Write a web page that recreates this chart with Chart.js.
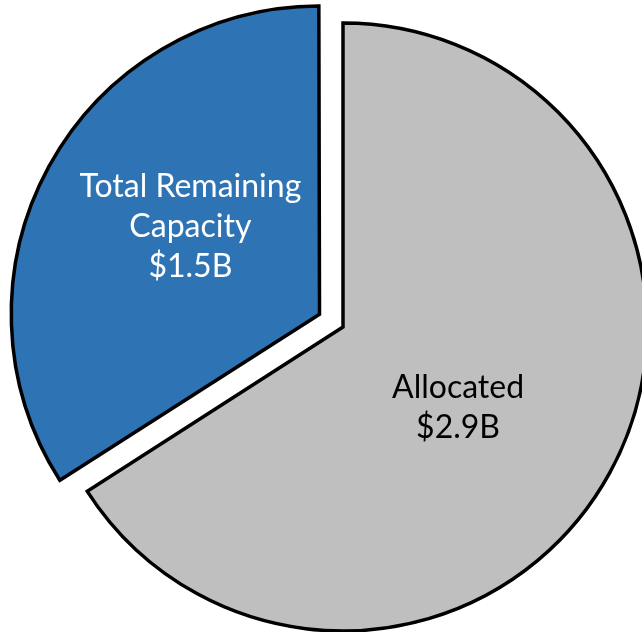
<!DOCTYPE html>
<html>
<head>
<meta charset="utf-8">
<script src="https://cdn.jsdelivr.net/npm/chart.js@4"></script>
<style>
	body { margin: 0; background: #fff; overflow: hidden; }
	#wrap { width: 642px; height: 632px; }
</style>
</head>
<body>
<div id="wrap"><canvas id="myChart" width="642" height="632"></canvas></div>
<script>
// 데이터
const categories = [["Allocated"], ["Total Remaining", "Capacity"]];
const values = [2.9, 1.5];
const valueLabels = ["$2.9B", "$1.5B"];

const sliceColors = ['#BFBFBF', '#2E74B5'];
const textColors = ['#000000', '#FFFFFF'];
const sliceOffsets = [0, 107];
const labelDist = [0.45, 0.5]; // 반지름 대비 라벨 위치
const labelNudge = [[-5, 15], [8, -13]]; // 라벨 미세 조정 (px)

// 조각 안에 라벨 그리기
const sliceLabels = {
	id: 'sliceLabels',
	afterDatasetsDraw(chart) {
		const ctx = chart.ctx;
		const meta = chart.getDatasetMeta(0);
		meta.data.forEach((arc, i) => {
			const p = arc.getProps(['x', 'y', 'startAngle', 'endAngle', 'outerRadius', 'circumference'], true);
			const mid = (p.startAngle + p.endAngle) / 2;
			const off = (arc.options.offset || 0) / 4 * (2 - Math.sin(Math.min(Math.PI, p.circumference)));
			const d = off + labelDist[i] * p.outerRadius;
			const cx = p.x + Math.cos(mid) * d + labelNudge[i][0];
			const cy = p.y + Math.sin(mid) * d + labelNudge[i][1];
			const lines = categories[i].concat([valueLabels[i]]);
			const lh = 40;
			ctx.save();
			ctx.font = '32px Lato';
			ctx.fillStyle = textColors[i];
			ctx.textAlign = 'center';
			ctx.textBaseline = 'middle';
			lines.forEach((t, j) => {
				ctx.fillText(t, cx, cy + (j - (lines.length - 1) / 2) * lh);
			});
			ctx.restore();
		});
	}
};

const ctx = document.getElementById('myChart').getContext('2d');
const myChart = new Chart(ctx, {
	type: 'pie',
	data: {
		labels: categories.map(c => c.join(' ')),
		datasets: [{
			data: values,
			backgroundColor: sliceColors,
			borderColor: '#000000',
			borderWidth: 3.5,
			borderJoinStyle: 'miter',
			offset: sliceOffsets,
			radius: 304,
			clip: false
		}]
	},
	options: {
		responsive: false,
		animation: false,
		events: [],
		layout: {
			padding: { left: 44, right: 0, top: 22, bottom: 0 }
		},
		plugins: {
			legend: { display: false },
			tooltip: { enabled: false }
		}
	},
	plugins: [sliceLabels]
});
</script>
</body>
</html>
